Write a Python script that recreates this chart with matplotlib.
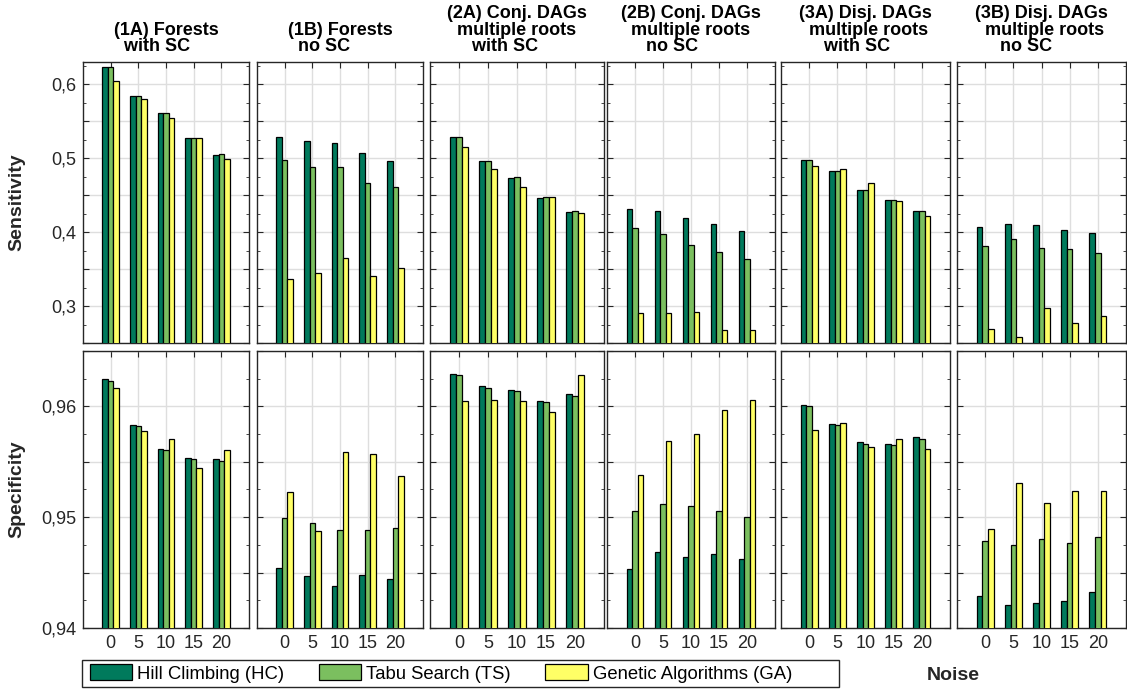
import matplotlib
matplotlib.use('Agg')
import matplotlib.pyplot as plt
import numpy as np
from matplotlib.patches import Patch, Rectangle

plt.rcParams['font.family'] = ['Liberation Sans', 'DejaVu Sans']

noise = [0, 5, 10, 15, 20]
methods = ['Hill Climbing (HC)', 'Tabu Search (TS)', 'Genetic Algorithms (GA)']
titles = [
    "(1A) Forests\n  with SC",
    "(1B) Forests\n  no SC",
    "(2A) Conj. DAGs\n  multiple roots\n     with SC",
    "(2B) Conj. DAGs\n  multiple roots\n     no SC",
    "(3A) Disj. DAGs\n  multiple roots\n     with SC",
    "(3B) Disj. DAGs\n  multiple roots\n     no SC",
]

# Sensitivity (rows: panels 1A,1B,2A,2B,3A,3B; cols: noise levels)
sens_hc = [
    [0.6226, 0.5840, 0.5616, 0.5273, 0.5045],
    [0.5280, 0.5230, 0.5200, 0.5070, 0.4960],
    [0.5286, 0.4955, 0.4727, 0.4459, 0.4277],
    [0.4312, 0.4290, 0.4190, 0.4109, 0.4018],
    [0.4980, 0.4830, 0.4570, 0.4440, 0.4290],
    [0.4073, 0.4114, 0.4095, 0.4032, 0.3982],
]
sens_ts = [
    [0.6226, 0.5840, 0.5616, 0.5273, 0.5054],
    [0.4980, 0.4880, 0.4880, 0.4670, 0.4610],
    [0.5286, 0.4955, 0.4740, 0.4473, 0.4282],
    [0.4050, 0.3977, 0.3828, 0.3724, 0.3638],
    [0.4970, 0.4820, 0.4570, 0.4440, 0.4290],
    [0.3805, 0.3910, 0.3786, 0.3768, 0.3723],
]
sens_ga = [
    [0.6045, 0.5797, 0.5548, 0.5273, 0.4982],
    [0.3360, 0.3440, 0.3650, 0.3410, 0.3510],
    [0.5150, 0.4855, 0.4605, 0.4477, 0.4264],
    [0.2910, 0.2900, 0.2914, 0.2675, 0.2675],
    [0.4890, 0.4850, 0.4660, 0.4427, 0.4214],
    [0.2690, 0.2577, 0.2968, 0.2777, 0.2860],
]
# Specificity
spec_hc = [
    [0.96244, 0.95831, 0.95620, 0.95533, 0.95524],
    [0.94539, 0.94467, 0.94380, 0.94476, 0.94446],
    [0.96290, 0.96180, 0.96150, 0.96050, 0.96110],
    [0.94530, 0.94690, 0.94640, 0.94670, 0.94620],
    [0.96012, 0.95840, 0.95683, 0.95660, 0.95726],
    [0.94289, 0.94211, 0.94229, 0.94241, 0.94328],
]
spec_ts = [
    [0.96226, 0.95819, 0.95611, 0.95521, 0.95506],
    [0.94991, 0.94949, 0.94883, 0.94886, 0.94907],
    [0.96280, 0.96170, 0.96140, 0.96040, 0.96090],
    [0.95060, 0.95120, 0.95100, 0.95060, 0.95000],
    [0.96003, 0.95828, 0.95665, 0.95648, 0.95708],
    [0.94786, 0.94750, 0.94807, 0.94765, 0.94819],
]
spec_ga = [
    [0.96169, 0.95777, 0.95704, 0.95443, 0.95605],
    [0.95229, 0.94873, 0.95584, 0.95566, 0.95373],
    [0.96050, 0.96060, 0.96050, 0.95950, 0.96280],
    [0.95380, 0.95690, 0.95750, 0.95970, 0.96060],
    [0.95783, 0.95852, 0.95635, 0.95705, 0.95614],
    [0.94892, 0.95310, 0.95130, 0.95232, 0.95238],
]

colors = ['#007A5C', '#7BBF5F', '#FFFF66']
W, H = 1127, 690
fig = plt.figure(figsize=(W / 100, H / 100), dpi=100)

cols = [(83, 249), (257, 423), (430, 604), (607, 775), (781, 950), (957, 1126)]
rows = [(62, 343), (351, 628)]
spine_c = '#262626'
grid_c = '#dedede'

row_specs = [
    dict(data=[sens_hc, sens_ts, sens_ga], ylim=(0.25, 0.63),
         major=np.round(np.arange(0.25, 0.6301, 0.05), 3),
         minor=np.round(np.arange(0.25, 0.6301, 0.025), 4), lab_step=0.1, fmt='{:.1f}'),
    dict(data=[spec_hc, spec_ts, spec_ga], ylim=(0.94, 0.965),
         major=np.round(np.arange(0.94, 0.9651, 0.005), 4),
         minor=np.round(np.arange(0.94, 0.9651, 0.0025), 5), lab_step=0.01, fmt='{:.2f}'),
]

x = np.arange(1, 6)
offsets = [-0.2, 0.0, 0.2]
for r, (ry0, ry1) in enumerate(rows):
    spec = row_specs[r]
    for c, (cx0, cx1) in enumerate(cols):
        ax = fig.add_axes([cx0 / W, 1 - ry1 / H, (cx1 - cx0) / W, (ry1 - ry0) / H])
        for k in range(3):
            ax.bar(x + offsets[k], spec['data'][k][c], width=0.2, color=colors[k],
                   edgecolor='black', linewidth=0.9, zorder=3)
        ax.set_xlim(0, 6)
        ax.set_ylim(*spec['ylim'])
        ax.set_axisbelow(True)
        ax.grid(True, color=grid_c, linewidth=1.0, zorder=0)
        ax.set_xticks(x)
        if r == 1:
            ax.set_xticklabels([str(n) for n in noise])
        else:
            ax.set_xticklabels([])
        majors = spec['major']
        labs = []
        for v in majors:
            q = v / spec['lab_step']
            if abs(q - round(q)) < 1e-6:
                labs.append(spec['fmt'].format(v).replace('.', ','))
            else:
                labs.append('')
        ax.set_yticks(majors)
        ax.set_yticks(spec['minor'], minor=True)
        if c == 0:
            ax.set_yticklabels(labs)
        else:
            ax.set_yticklabels([])
        ax.tick_params(axis='both', which='both', direction='in', top=True, right=True,
                       color=spine_c, labelcolor='#262626', labelsize=13)
        ax.tick_params(axis='both', which='major', length=4, width=0.8)
        ax.tick_params(axis='both', which='minor', length=2.5, width=0.6)
        ax.tick_params(axis='x', pad=5)
        ax.tick_params(axis='y', pad=5)
        for s in ax.spines.values():
            s.set_color(spine_c)
            s.set_linewidth(1.0)
        if r == 0:
            ax.text(0.5, 1.0 + 7 / (ry1 - ry0), titles[c],
                    transform=ax.transAxes, ha='center', va='bottom',
                    multialignment='left', fontsize=13, fontweight='bold',
                    linespacing=0.95)

fig.text(17 / W, 1 - 202 / H, 'Sensitivity', rotation=90, ha='center', va='center',
         fontsize=14, fontweight='bold', color='#262626')
fig.text(17 / W, 1 - 489 / H, 'Specificity', rotation=90, ha='center', va='center',
         fontsize=14, fontweight='bold', color='#262626')
fig.text(953 / W, 1 - 675 / H, 'Noise', ha='center', va='center',
         fontsize=14, fontweight='bold', color='#262626')

# legend box frame
fig.patches.append(Rectangle((82 / W, 1 - 687 / H), (839 - 82) / W, 27 / H,
                             transform=fig.transFigure, facecolor='white',
                             edgecolor='#262626', linewidth=1.0, zorder=1))
handles = [Patch(facecolor=colors[k], edgecolor='black', linewidth=0.9) for k in range(3)]
leg = fig.legend(handles, methods, loc='center left', ncol=3,
                 bbox_to_anchor=(86 / W, 1 - 673.5 / H),
                 fontsize=13.3, frameon=False,
                 handlelength=2.3, handleheight=0.95, handletextpad=0.28,
                 borderpad=0.2, borderaxespad=0.0, columnspacing=1.85)
leg.set_zorder(2)

fig.savefig('out.png', dpi=100)
